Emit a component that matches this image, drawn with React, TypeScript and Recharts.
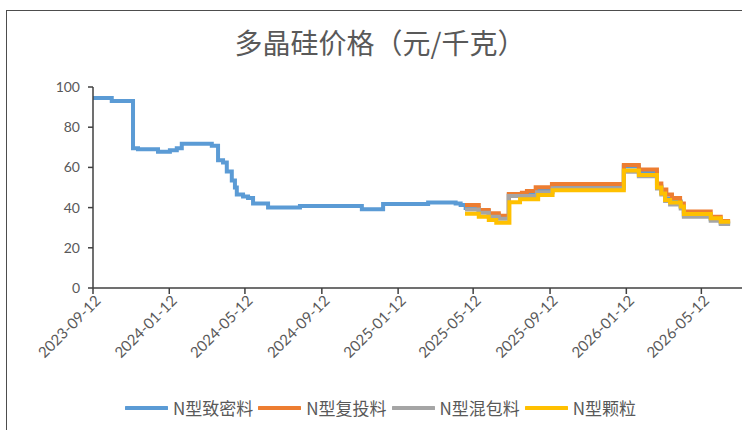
import { LineChart, Line, XAxis, YAxis } from "recharts";

const blueDates = [
  "2023-09-12", "2023-10-12", "2023-11-15", "2023-11-23", "2023-12-25", "2024-01-13", "2024-01-24",
  "2024-02-01", "2024-03-20", "2024-03-30", "2024-04-07", "2024-04-13", "2024-04-21", "2024-04-26",
  "2024-04-29", "2024-05-09", "2024-05-17", "2024-05-25", "2024-06-18", "2024-08-08", "2024-11-15",
  "2024-12-19", "2025-03-01", "2025-04-14", "2025-04-22", "2025-04-30", "2025-05-21", "2025-06-06",
  "2025-06-22", "2025-07-08", "2025-07-29", "2025-08-22", "2025-09-16", "2026-01-08", "2026-02-01",
  "2026-03-02", "2026-03-09", "2026-03-15", "2026-03-23", "2026-04-09", "2026-04-14", "2026-05-27",
  "2026-06-12", "2026-06-27",
];
const blueValues = [
  94.5, 93, 69.5, 69, 67.8, 68.5, 69.5,
  71.8, 70.8, 63.5, 62.5, 58, 53.5, 50,
  46.5, 45.5, 44.8, 42, 40, 40.8, 39.2,
  41.8, 42.5, 42, 41.3, 39.8, 38.3, 36.5,
  35.5, 46.2, 47, 48.8, 50.5, 60.4, 57.5,
  50.5, 47.5, 44.5, 43, 40.5, 36.2, 34.2,
  32.5, 32.5,
];

const orangeDates = [
  "2025-04-29", "2025-05-21", "2025-06-06", "2025-06-22", "2025-07-08", "2025-07-29", "2025-08-06",
  "2025-08-20", "2025-09-15", "2026-01-08", "2026-02-01", "2026-03-02", "2026-03-09", "2026-03-17",
  "2026-03-26", "2026-04-08", "2026-04-14", "2026-05-27", "2026-06-12", "2026-06-27",
];
const orangeValues = [
  41.3, 38.8, 37.2, 36, 46.8, 47.4, 48.3,
  50.1, 51.8, 61.2, 59, 52, 49, 46.5,
  44.8, 42, 38, 35.5, 33.3, 33.3,
];

const grayDates = [
  "2025-04-29", "2025-05-21", "2025-06-06", "2025-06-22", "2025-07-08", "2025-08-22", "2025-09-16",
  "2026-01-08", "2026-02-01", "2026-03-02", "2026-03-09", "2026-03-15", "2026-03-23", "2026-04-09",
  "2026-04-14", "2026-05-27", "2026-06-12", "2026-06-27",
];
const grayValues = [
  39, 37.5, 35.5, 34.5, 45.8, 47.6, 49.6,
  57.8, 55.6, 49.5, 46.5, 43.3, 41.5, 39.5,
  35.5, 33.5, 31.8, 31.8,
];

const yellowDates = [
  "2025-04-29", "2025-05-21", "2025-06-06", "2025-06-18", "2025-07-09", "2025-07-26", "2025-08-24",
  "2025-09-16", "2026-01-08", "2026-02-01", "2026-03-02", "2026-03-09", "2026-03-15", "2026-03-23",
  "2026-04-09", "2026-04-14", "2026-05-27", "2026-06-12", "2026-06-27",
];
const yellowValues = [
  37, 35.5, 33.8, 32.5, 42.6, 44.1, 46.3,
  48.6, 58.4, 56.2, 50, 47, 43.8, 42.5,
  40.5, 36.8, 34.7, 33, 33,
];

const tickDates = [
  "2023-09-12", "2024-01-12", "2024-05-12", "2024-09-12", "2025-01-12",
  "2025-05-12", "2025-09-12", "2026-01-12", "2026-05-12",
];
const yTicks = [0, 20, 40, 60, 80, 100];

const toTs = (s: string) => Date.parse(s + "T00:00:00Z");
const fmtDate = (ts: number) => new Date(ts).toISOString().slice(0, 10);

const makeData = (dates: string[], values: number[]) =>
  dates.map((d, i) => ({ t: toTs(d), v: values[i] }));

const series = [
  { name: "N型致密料", color: "#5B9BD5", data: makeData(blueDates, blueValues) },
  { name: "N型复投料", color: "#ED7D31", data: makeData(orangeDates, orangeValues) },
  { name: "N型混包料", color: "#A5A5A5", data: makeData(grayDates, grayValues) },
  { name: "N型颗粒", color: "#FFC000", data: makeData(yellowDates, yellowValues) },
];

const textColor = "#595959";
const axisColor = "#404040";
const cjkFont = '"Noto Sans CJK SC", "Noto Sans", sans-serif';

const DateTick = (props: any) => {
  const { x, y, payload } = props;
  return (
    <g transform={`translate(${x + 5},${y + 2})`}>
      <text
        textAnchor="end"
        fill={textColor}
        fontSize={15}
        fontFamily="Lato, sans-serif"
        transform="rotate(-45)"
        dy="0.35em"
      >
        {fmtDate(payload.value)}
      </text>
    </g>
  );
};

const App = () => {
  return (
    <div
      style={{
        position: "fixed",
        left: 0,
        top: 0,
        width: 742,
        height: 430,
        background: "#fff",
        overflow: "hidden",
      }}
    >
      {/* frame of the original sheet */}
      <div
        style={{
          position: "absolute",
          left: 6,
          top: 10,
          width: 760,
          height: 440,
          borderLeft: "1.5px solid #4d4d4d",
          borderTop: "1.5px solid #4d4d4d",
        }}
      />
      <div
        style={{
          position: "absolute",
          left: 0,
          width: 760,
          top: 23,
          textAlign: "center",
          fontFamily: cjkFont,
          fontSize: 28,
          color: textColor,
          lineHeight: "38px",
        }}
      >
        多晶硅价格（元/千克）
      </div>
      <div style={{ position: "absolute", left: 0, top: 0 }}>
        <LineChart width={742} height={430} margin={{ top: 87, right: 0, bottom: 0, left: 0 }}>
          <XAxis
            dataKey="t"
            type="number"
            domain={[toTs("2023-09-12"), toTs("2026-07-16")]}
            ticks={tickDates.map(toTs)}
            tick={<DateTick />}
            tickSize={6}
            height={142}
            allowDuplicatedCategory={false}
            axisLine={{ stroke: axisColor, strokeWidth: 1.5 }}
            tickLine={{ stroke: axisColor, strokeWidth: 1.5 }}
            interval={0}
          />
          <YAxis
            type="number"
            domain={[0, 100]}
            ticks={yTicks}
            width={93}
            tickSize={5}
            tickMargin={8}
            tick={{ fill: textColor, fontSize: 14, fontFamily: "Lato, sans-serif" }}
            axisLine={{ stroke: axisColor, strokeWidth: 1.5 }}
            tickLine={{ stroke: axisColor, strokeWidth: 1.5 }}
          />
          {series.map((s) => (
            <Line
              key={s.name}
              data={s.data}
              dataKey="v"
              name={s.name}
              type="stepAfter"
              stroke={s.color}
              strokeWidth={4}
              dot={false}
              activeDot={false}
              isAnimationActive={false}
            />
          ))}
        </LineChart>
      </div>
      <div
        style={{
          position: "absolute",
          left: 0,
          width: 761,
          top: 395,
          display: "flex",
          justifyContent: "center",
          gap: 5,
          fontFamily: cjkFont,
          fontSize: 17,
          color: textColor,
          lineHeight: "26px",
        }}
      >
        {series.map((s) => (
          <div key={s.name} style={{ display: "flex", alignItems: "center", gap: 5 }}>
            <svg width={43} height={8}>
              <line x1={1} y1={4} x2={42} y2={4} stroke={s.color} strokeWidth={4} strokeLinecap="round" />
            </svg>
            <span>{s.name}</span>
          </div>
        ))}
      </div>
    </div>
  );
};

export default App;
